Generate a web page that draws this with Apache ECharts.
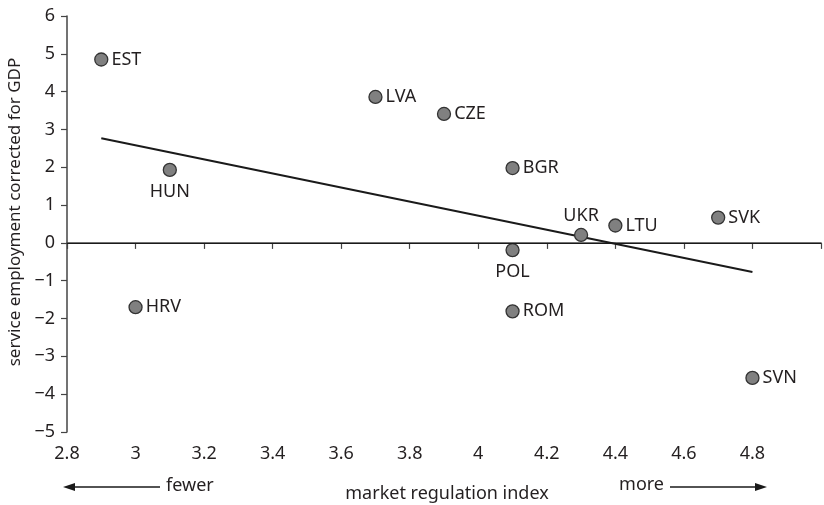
<!DOCTYPE html>
<html>
<head>
<meta charset="utf-8">
<script src="https://cdn.jsdelivr.net/npm/echarts@6/dist/echarts.min.js"></script>
<style>html,body{margin:0;padding:0;background:#fff}#c{width:824px;height:505px}</style>
</head>
<body>
<div id="c"></div>
<script>
const countries = ['EST','HUN','HRV','LVA','CZE','BGR','UKR','LTU','SVK','POL','ROM','SVN'];
const regIndex = [2.9, 3.1, 3.0, 3.7, 3.9, 4.1, 4.3, 4.4, 4.7, 4.1, 4.1, 4.8];
const serviceEmp = [4.85, 1.93, -1.70, 3.86, 3.41, 1.98, 0.21, 0.46, 0.67, -0.19, -1.81, -3.57];
const fitX = [2.9, 4.8];
const fitY = [2.77, -0.77];
const xTicks = [2.8, 3.0, 3.2, 3.4, 3.6, 3.8, 4.0, 4.2, 4.4, 4.6, 4.8];
const yTicks = [-5, -4, -3, -2, -1, 0, 1, 2, 3, 4, 5, 6];

const FONT = 'Noto Sans';
const TXT = '#231f20';
const labelPos = {HUN: 'bottom', POL: 'bottom', UKR: 'top'};
const labelDist = {HUN: 6, POL: 6, UKR: 3};

const chart = echarts.init(document.getElementById('c'));
const pts = countries.map((n, i) => ({
  name: n,
  value: [regIndex[i], serviceEmp[i]],
  label: {position: labelPos[n] || 'right', distance: labelDist[n] || 3}
}));

chart.setOption({
  animation: false,
  grid: {left: 67, top: 16, width: 760, height: 416, containLabel: false},
  xAxis: {
    type: 'value', min: 2.8, max: 5.0, interval: 0.2,
    axisLine: {lineStyle: {color: '#444', width: 1.5}},
    axisTick: {show: true, length: 6, lineStyle: {color: '#444', width: 1.2}},
    axisLabel: {
      margin: 13, fontFamily: FONT, fontSize: 18, color: TXT,
      formatter: v => {
        const r = Math.round(v * 10) / 10;
        return xTicks.some(t => Math.abs(t - r) < 1e-6) ? String(r) : '';
      }
    },
    splitLine: {show: false}
  },
  yAxis: {
    type: 'value', min: -5, max: 6, interval: 1,
    axisLine: {show: true, lineStyle: {color: '#444', width: 1.5}},
    axisTick: {show: true, length: 6, lineStyle: {color: '#444', width: 1.2}},
    axisLabel: {
      margin: 12, fontFamily: FONT, fontSize: 18, color: TXT,
      formatter: v => yTicks.includes(v) ? String(v).replace('-', '\u2212') : ''
    },
    splitLine: {show: false}
  },
  series: [
    {
      type: 'line',
      data: fitX.map((x, i) => [x, fitY[i]]),
      symbol: 'none',
      lineStyle: {color: '#1a1a1a', width: 2},
      markLine: {
        silent: true, symbol: 'none', label: {show: false},
        lineStyle: {color: '#1a1a1a', width: 1.2, type: 'solid'},
        data: [{yAxis: 0}]
      },
      z: 2
    },
    {
      type: 'scatter',
      data: pts,
      symbol: 'circle',
      symbolSize: 13,
      itemStyle: {color: '#808080', borderColor: '#333', borderWidth: 1.3, opacity: 1},
      label: {
        show: true, formatter: p => p.name,
        fontFamily: FONT, fontSize: 18, color: TXT
      },
      z: 3
    }
  ],
  graphic: [
    {type: 'text', x: 15, y: 212, rotation: Math.PI / 2,
      style: {text: 'service employment corrected for GDP', font: '17px "Noto Sans"', fill: TXT, align: 'center', verticalAlign: 'middle'}},
    {type: 'text', x: 447, y: 494,
      style: {text: 'market regulation index', font: '18px "Noto Sans"', fill: TXT, align: 'center', verticalAlign: 'middle'}},
    {type: 'text', x: 166, y: 486,
      style: {text: 'fewer', font: '18px "Noto Sans"', fill: TXT, align: 'left', verticalAlign: 'middle'}},
    {type: 'text', x: 664, y: 485,
      style: {text: 'more', font: '18px "Noto Sans"', fill: TXT, align: 'right', verticalAlign: 'middle'}},
    {type: 'line', shape: {x1: 72, y1: 487, x2: 160, y2: 487}, style: {stroke: '#1a1a1a', lineWidth: 1.3}},
    {type: 'polygon', shape: {points: [[63, 487], [75, 483], [75, 491]]}, style: {fill: '#1a1a1a'}},
    {type: 'line', shape: {x1: 670, y1: 487, x2: 758, y2: 487}, style: {stroke: '#1a1a1a', lineWidth: 1.3}},
    {type: 'polygon', shape: {points: [[767, 487], [755, 483], [755, 491]]}, style: {fill: '#1a1a1a'}}
  ]
});
</script>
</body>
</html>
